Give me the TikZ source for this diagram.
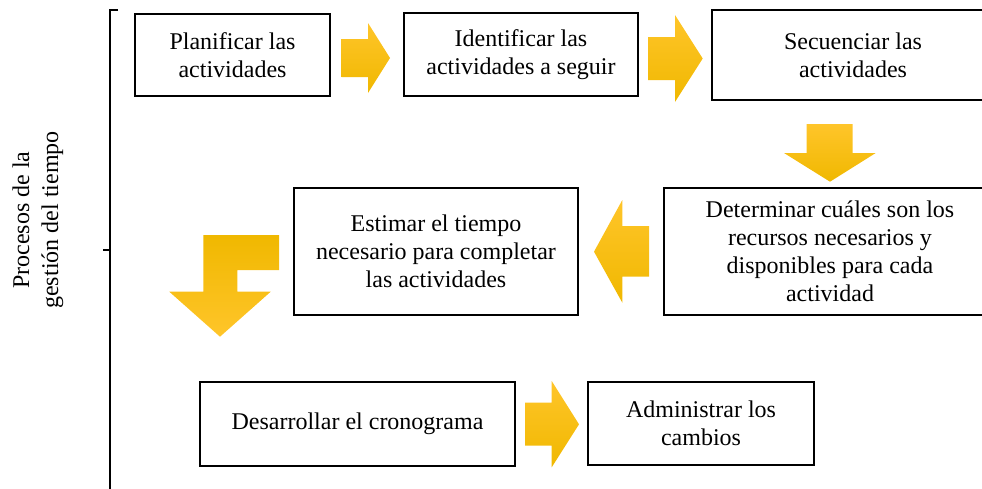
\documentclass[tikz,border=0pt]{standalone}
\usepackage{fontspec}
\setmainfont{Liberation Serif}
\definecolor{gmid}{HTML}{FFC000}
\definecolor{glight}{HTML}{FFC52A}
\definecolor{gdark}{HTML}{F0B800}
\tikzset{
  box/.style={draw=black, line width=2.2pt, inner sep=0pt, align=center, font=\fontsize{24}{28}\selectfont, fill=white},
  garrow/.style={top color=glight, middle color=gmid, bottom color=gdark, draw=none},
  garrowrev/.style={top color=gdark, middle color=gmid, bottom color=glight, draw=none},
  brace/.style={line width=2.2pt}
}
\begin{document}
\begin{tikzpicture}[x=1pt,y=-1pt]
\useasboundingbox (0,0) rectangle (982,488);
% boxes
\node[box, minimum width=194.5pt, minimum height=82pt] (b1) at (232.5,55) {Planificar las\\actividades};
\node[box, minimum width=234pt, minimum height=83pt] (b2) at (521,54.5) {Identificar las\\actividades a seguir};
\node[box, minimum width=282pt, minimum height=89.5pt] (b3) at (853,55) {Secuenciar las\\actividades};
\node[box, minimum width=332pt, minimum height=127pt] (b4) at (830,251.5) {Determinar cuáles son los\\recursos necesarios y\\disponibles para cada\\actividad};
\node[box, minimum width=284pt, minimum height=127pt] (b5) at (436,251.5) {Estimar el tiempo\\necesario para completar\\las actividades};
\node[box, minimum width=315pt, minimum height=84pt] (b6) at (357.5,424) {Desarrollar el cronograma};
\node[box, minimum width=226pt, minimum height=83pt] (b7) at (701,423.5) {Administrar los\\cambios};
% block arrows
\path[garrow] (341.7,39) -- (368,39) -- (368,23) -- (390,58) -- (368,93) -- (368,77) -- (341.7,77) -- cycle;
\path[garrow] (648,37) -- (675,37) -- (675,15) -- (702.7,58.5) -- (675,102) -- (675,80) -- (648,80) -- cycle;
\path[garrow] (806.7,124) -- (852.7,124) -- (852.7,153) -- (875.7,153) -- (830,181.7) -- (784,153) -- (806.7,153) -- cycle;
\path[garrow] (594,251.7) -- (622.3,200) -- (622.3,226) -- (649,226) -- (649,276.7) -- (622.3,276.7) -- (622.3,302.7) -- cycle;
\path[garrowrev] (279,235) -- (203.3,235) -- (203.3,291.7) -- (169.3,291.7) -- (220,336.7) -- (270.7,291.7) -- (237.3,291.7) -- (237.3,270) -- (279,270) -- cycle;
\path[garrow] (525,402.7) -- (551.7,402.7) -- (551.7,381) -- (579,424.3) -- (551.7,467.3) -- (551.7,445.7) -- (525,445.7) -- cycle;
% bracket
\coordinate (bt) at (118,10);
\coordinate (bc) at (110,10);
\coordinate (bb) at (110,492);
\coordinate (mt) at (103,250);
\coordinate (mc) at (110,250);
\draw[brace] (bt) -- (bc) -- (bb);
\draw[brace] (mt) -- (mc);
% label
\node[rotate=90, align=center, font=\fontsize{24}{29}\selectfont, inner sep=0pt] (lab) at (38,220) {Procesos de la\\gestión del tiempo};
\end{tikzpicture}
\end{document}
